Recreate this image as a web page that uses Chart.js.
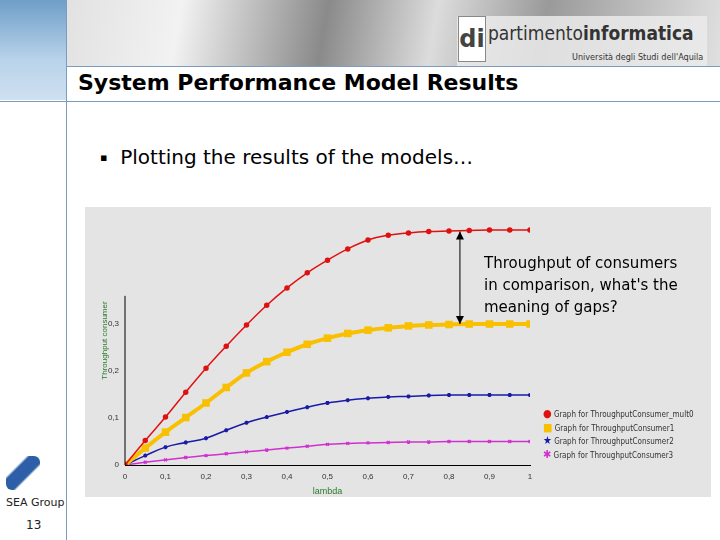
<!DOCTYPE html>
<html><head><meta charset="utf-8">
<script src="https://cdn.jsdelivr.net/npm/chart.js@4"></script>
<style>
body{margin:0;width:720px;height:540px;position:relative;background:#fff;font-family:"DejaVu Sans",sans-serif;overflow:hidden}
.abs{position:absolute}
</style></head><body>
<div class="abs" style="left:0;top:0;width:720px;height:66px;background:linear-gradient(100deg,#d8d8d8 0%,#f2f2f2 25%,#8a8a8a 45%,#dcdcdc 60%,#9a9a9a 75%,#e0e0e0 100%)"></div>
<div class="abs" style="left:0;top:0;width:66px;height:100px;background:linear-gradient(180deg,#6f9ec8,#b9d3ea 60%,#cfe0f0)"></div>
<div class="abs" style="left:66px;top:66px;width:654px;height:1px;background:#7a9cc0"></div>
<div class="abs" style="left:457px;top:16px;width:250px;height:50px;background:rgba(235,235,235,0.85)"></div>
<div class="abs" style="left:458px;top:16px;width:26px;height:44px;background:#fff;color:#444;font:bold 24px 'DejaVu Sans';line-height:44px;text-align:center;border:1px solid #888">di</div>
<div class="abs" style="left:488px;top:22px;color:#333;font:19px 'DejaVu Sans Condensed',sans-serif">partimento<b>informatica</b></div>
<div class="abs" style="left:572px;top:52px;color:#333;font:9px 'DejaVu Sans Condensed',sans-serif">Università degli Studi dell'Aquila</div>
<div class="abs" style="left:66px;top:0;width:1px;height:540px;background:#7a9cc0"></div>
<div class="abs" style="left:0;top:101px;width:720px;height:1px;background:#7a9cc0"></div>
<div class="abs" style="left:78px;top:70px;font:bold 22px 'DejaVu Sans',sans-serif;color:#000">System Performance Model Results</div>
<div class="abs" style="left:100px;top:145px;font:20px 'DejaVu Sans',sans-serif;color:#000"><span style="font-size:11px;vertical-align:3px">▪</span>&nbsp; Plotting the results of the models…</div>
<div class="abs" style="left:85px;top:207px;width:626px;height:290px;background:#e4e4e4">
  <canvas id="c" width="626" height="290"></canvas>
</div>
<div class="abs" style="left:484px;top:252px;font:15px 'DejaVu Sans',sans-serif;line-height:22px;color:#000">Throughput of consumers<br>in comparison, what's the<br>meaning of gaps?</div>
<div id="leg" class="abs" style="left:543px;top:408px;font:8px 'DejaVu Sans Condensed',sans-serif;color:#333;line-height:12.5px"></div>
<div class="abs" style="left:6px;top:456px;width:34px;height:34px;background:linear-gradient(135deg,#fff 30%,#2d5ea8 35%,#2d5ea8 60%,#fff 65%);border-radius:6px"></div>
<div class="abs" style="left:6px;top:496px;font:11px 'DejaVu Sans',sans-serif;color:#222">SEA Group</div>
<div class="abs" style="left:26px;top:518px;font:12px 'DejaVu Sans',sans-serif;color:#222">13</div>
<script>
const lambda = [0,0.05,0.1,0.15,0.2,0.25,0.3,0.35,0.4,0.45,0.5,0.55,0.6,0.65,0.7,0.75,0.8,0.85,0.9,0.95,1];
const multi = [0,0.052,0.102,0.155,0.206,0.253,0.298,0.340,0.377,0.409,0.436,0.460,0.479,0.489,0.494,0.497,0.498,0.499,0.5,0.5,0.5];
const cons1 = [0,0.036,0.070,0.101,0.132,0.165,0.196,0.220,0.240,0.257,0.270,0.280,0.287,0.292,0.296,0.298,0.299,0.3,0.3,0.3,0.3];
const cons2 = [0,0.020,0.038,0.048,0.057,0.074,0.090,0.102,0.113,0.123,0.132,0.138,0.142,0.145,0.146,0.148,0.149,0.149,0.149,0.149,0.149];
const cons3 = [0,0.006,0.011,0.016,0.020,0.024,0.028,0.032,0.036,0.040,0.044,0.046,0.047,0.048,0.049,0.049,0.050,0.050,0.050,0.050,0.050];
const names = ['Graph for ThroughputConsumer_mult0','Graph for ThroughputConsumer1','Graph for ThroughputConsumer2','Graph for ThroughputConsumer3'];
const colors = ['#e01010','#f8c000','#1a1aa8','#d030d0'];
const styles = ['circle','rect','star','crossRot'];
const series = [multi, cons1, cons2, cons3];

const leg = document.getElementById('leg');
names.forEach((n,i)=>{
  const sym = ['●','■','★','✱'][i];
  leg.innerHTML += '<div><span style="color:'+colors[i]+';font-size:11px">'+sym+'</span> '+n+'</div>';
});

const fmt = v => v===0 ? '0' : (v===1 ? '1' : String(Math.round(v*10)/10).replace('.', ','));

const extras = {
  id:'extras',
  afterDraw(chart){
    const {ctx, scales:{x,y}} = chart;
    ctx.save();
    ctx.strokeStyle='#000'; ctx.lineWidth=1;
    ctx.beginPath(); ctx.moveTo(x.left, y.getPixelForValue(0)); ctx.lineTo(x.left, y.getPixelForValue(0.36)); ctx.stroke();
    const ax = x.getPixelForValue(0.827), y1 = y.getPixelForValue(0.497), y2 = y.getPixelForValue(0.3);
    ctx.beginPath(); ctx.moveTo(ax,y1); ctx.lineTo(ax,y2); ctx.stroke();
    ctx.fillStyle='#000';
    [[y1,1],[y2,-1]].forEach(([py,d])=>{
      ctx.beginPath(); ctx.moveTo(ax,py); ctx.lineTo(ax-4,py+8*d); ctx.lineTo(ax+4,py+8*d); ctx.closePath(); ctx.fill();
    });
    ctx.restore();
  }
};

new Chart(document.getElementById('c'), {
  type:'line',
  data:{
    labels: lambda,
    datasets: series.map((d,i)=>({
      label:names[i], data:d.map((v,k)=>({x:lambda[k],y:v})),
      borderColor:colors[i], backgroundColor:colors[i], borderWidth: i===1?4:1.5,
      pointStyle:styles[i], pointRadius: i===1?2.5:2, tension:0.4
    }))
  },
  options:{
    responsive:false, animation:false,
    layout:{padding:{top:9,right:181,left:15,bottom:0}},
    plugins:{legend:{display:false}, tooltip:{enabled:false}},
    scales:{
      x:{type:'linear', min:0, max:1,
        grid:{display:false, drawTicks:true, tickLength:4, tickColor:'#000'},
        border:{color:'#000'},
        ticks:{stepSize:0.1, callback:fmt, font:{size:8}, color:'#333'},
        title:{display:true, text:'lambda', color:'#2a7a2a', font:{size:9}, padding:0},
        afterFit(s){s.height=32;}
      },
      y:{min:0, max:0.53,
        grid:{display:false, tickLength:4, tickColor:'#000'},
        border:{display:false},
        ticks:{stepSize:0.05, padding:2, callback:v=> (Math.abs(v*10-Math.round(v*10))<1e-6 && v<=0.35) ? fmt(v) : (v<0.36 ? '' : null), font:{size:8}, color:'#333'},
        title:{display:true, text:'Throughput consumer', color:'#2a7a2a', font:{size:8}, padding:0},
        afterFit(s){s.width=25;}
      }
    }
  },
  plugins:[extras]
});
</script>
</body></html>
